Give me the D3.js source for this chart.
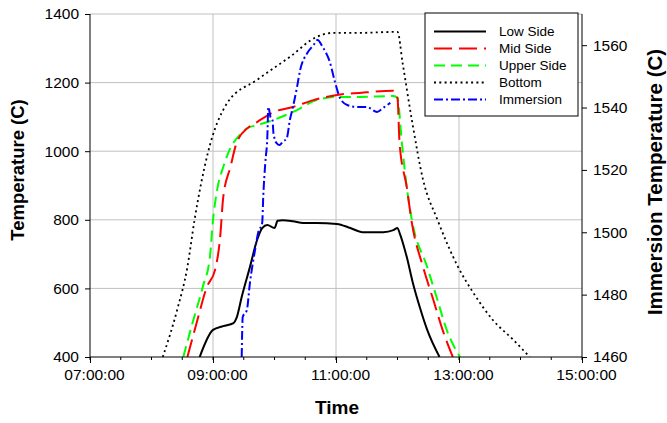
<!DOCTYPE html>
<html lang="en">
<head>
<meta charset="UTF-8">
<title>Temperature vs Time</title>
<script src="https://d3js.org/d3.v7.min.js"></script>
<style>
  body { margin: 0; background: #fff; }
  text { font-family: Arial, "Liberation Sans", sans-serif; }
</style>
</head>
<body>
<script>
// data: [time, temperature]
var lowSide = [["08:47",400],["09:00",479],["09:10",490],["09:20",499],["09:23",514],["09:28",575],
  ["09:36",662],["09:43",741],["09:48",776],["09:53",785],["10:00",776],["10:03",797],["10:08",799],
  ["10:18",796],["10:28",791],["10:41",791],["11:01",788],["11:14",776],["11:26",764],["11:46",764],
  ["11:56",770],["12:00",776],["12:02",762],["12:09",692],["12:15",616],["12:22",543],["12:29",479],["12:41",400]];
var midSide = [["08:35",400],["08:44",499],["08:54",604],["09:02",654],["09:07",750],["09:10",866],
  ["09:17",954],["09:23",1024],["09:34",1068],["09:43",1085],["09:59",1114],["10:18",1129],["10:38",1149],
  ["11:01",1164],["11:23",1170],["11:56",1176],["12:00",1155],["12:02",1024],["12:09",896],["12:14",791],
  ["12:25",662],["12:35",566],["12:44",479],["12:54",400]];
var upperSide = [["08:31",400],["08:40",499],["08:50",604],["08:57",692],["09:00",799],["09:04",887],
  ["09:10",954],["09:17",1009],["09:26",1047],["09:34",1068],["09:43",1076],["09:59",1091],["10:22",1120],
  ["10:41",1149],["11:01",1158],["11:23",1158],["11:56",1161],["12:00",1155],["12:04",1033],["12:09",896],
  ["12:14",800],["12:29",662],["12:39",566],["12:48",479],["13:01",400]];
var bottom = [["08:11",400],["08:25",537],["08:35",662],["08:42",800],["08:55",995],["09:14",1141],
  ["09:43",1208],["10:15",1275],["10:41",1333],["10:57",1345],["11:23",1345],["12:00",1348],["12:05",1257],
  ["12:14",1091],["12:25",916],["12:39",800],["12:59",663],["13:14",587],["13:33",508],["13:53",450],["14:09",400]];
// immersion is plotted on the right axis
var immersion = [["09:28",1460],["09:29",1472.8],["09:33",1475],["09:36",1483.7],["09:41",1494.3],
  ["09:44",1499.8],["09:48",1503],["09:49",1511.3],["09:51",1522.2],["09:53",1530.6],["09:54",1540.2],
  ["09:56",1537],["09:58",1536],["09:59",1531.8],["10:02",1528.6],["10:05",1528],["10:08",1529],
  ["10:12",1530.2],["10:15",1536],["10:18",1540.2],["10:22",1546.6],["10:25",1552],["10:32",1557.5],
  ["10:38",1560],["10:42",1561.7],["10:47",1559.4],["10:54",1554.6],["10:59",1548.2],["11:04",1543],
  ["11:11",1540.8],["11:20",1540.2],["11:30",1540.2],["11:40",1538.6],["11:46",1539.9],["11:53",1541.5]];

var seriesNames = ["Low Side", "Mid Side", "Upper Side", "Bottom", "Immersion"];
var leftTicks = [400, 600, 800, 1000, 1200, 1400];
var rightTicks = [1460, 1480, 1500, 1520, 1540, 1560];
var timeTicks = ["07:00", "09:00", "11:00", "13:00", "15:00"];

var width = 667, height = 423;
var m = {left: 90, right: 85, top: 14, bottom: 66};
var parse = d3.timeParse("%H:%M");

var svg = d3.select("body").append("svg")
    .attr("width", width)
    .attr("height", height);

var x = d3.scaleTime()
    .domain([parse("07:00"), parse("15:00")])
    .range([m.left, width - m.right]);
var y = d3.scaleLinear().domain([400, 1400]).range([height - m.bottom, m.top]);
var y2 = d3.scaleLinear().domain([1460, 1570]).range([height - m.bottom, m.top]);

// grid
svg.append("g").selectAll("line").data(leftTicks.slice(1)).join("line")
    .attr("x1", m.left).attr("x2", width - m.right)
    .attr("y1", d => y(d)).attr("y2", d => y(d))
    .attr("stroke", "#c0c0c0").attr("stroke-width", 1);
svg.append("g").selectAll("line").data(timeTicks.slice(1, -1)).join("line")
    .attr("x1", d => x(parse(d))).attr("x2", d => x(parse(d)))
    .attr("y1", m.top).attr("y2", height - m.bottom)
    .attr("stroke", "#c0c0c0").attr("stroke-width", 1);

svg.append("defs").append("clipPath").attr("id", "plot")
  .append("rect")
    .attr("x", m.left).attr("y", m.top)
    .attr("width", width - m.left - m.right)
    .attr("height", height - m.top - m.bottom);

var line = d3.line().curve(d3.curveMonotoneX).x(d => x(parse(d[0]))).y(d => y(d[1]));
var line2 = d3.line().curve(d3.curveMonotoneX).x(d => x(parse(d[0]))).y(d => y2(d[1]));

var plot = svg.append("g").attr("clip-path", "url(#plot)");
var styles = [
  {data: bottom, color: "#000", dash: "2,3.3", w: 1.8, fn: line},
  {data: upperSide, color: "#00ff00", dash: "11,6", w: 2, fn: line},
  {data: midSide, color: "#ff0000", dash: "18,7", w: 2, fn: line},
  {data: lowSide, color: "#000", dash: null, w: 2, fn: line},
  {data: immersion, color: "#0000ff", dash: "9,3,2,3", w: 2, fn: line2}
];
styles.forEach(function(s) {
  plot.append("path")
      .attr("d", s.fn(s.data))
      .attr("fill", "none")
      .attr("stroke", s.color)
      .attr("stroke-width", s.w)
      .attr("stroke-dasharray", s.dash)
      .attr("stroke-linejoin", "round");
});

// axes
var fmt = d3.timeFormat("%H:%M:%S");
var xAxis = svg.append("g")
    .attr("transform", "translate(0," + (height - m.bottom) + ")")
    .call(d3.axisBottom(x).tickValues(timeTicks.map(parse)).tickFormat(fmt).tickSize(6).tickPadding(6));
var minor = d3.timeMinute.every(30).range(parse("07:00"), parse("15:01"));
xAxis.append("g").selectAll("line").data(minor).join("line")
    .attr("x1", d => x(d)).attr("x2", d => x(d))
    .attr("y1", 0).attr("y2", 3).attr("stroke", "#000");

var yAxis = svg.append("g")
    .attr("transform", "translate(" + m.left + ",0)")
    .call(d3.axisLeft(y).tickValues(leftTicks).tickFormat(d3.format("d")).tickSize(5).tickPadding(6));
var y2Axis = svg.append("g")
    .attr("transform", "translate(" + (width - m.right) + ",0)")
    .call(d3.axisRight(y2).tickValues(rightTicks).tickFormat(d3.format("d")).tickSize(5).tickPadding(6));

[xAxis, yAxis, y2Axis].forEach(function(a) {
  a.select(".domain").attr("stroke", "#000");
  a.selectAll("text").attr("font-size", 15.5).attr("fill", "#000")
    .style("font-family", "Arial, 'Liberation Sans', sans-serif");
});
xAxis.selectAll(".tick text").attr("dx", 4);
y2Axis.select(".domain").attr("d", "M0," + y2.range()[0] + "V" + y2.range()[1]);
yAxis.select(".domain").attr("d", "M0," + y.range()[0] + "V" + y.range()[1]);
xAxis.select(".domain").attr("d", "M" + x.range()[0] + ",0H" + x.range()[1]);

// titles
svg.append("text")
    .attr("transform", "translate(24," + 170 + ") rotate(-90)")
    .attr("text-anchor", "middle").attr("font-weight", "bold").attr("font-size", 18.5)
    .text("Temperature (C)");
svg.append("text")
    .attr("transform", "translate(662," + 182 + ") rotate(-90)")
    .attr("text-anchor", "middle").attr("font-weight", "bold").attr("font-size", 20.5)
    .text("Immersion Temperature (C)");
svg.append("text")
    .attr("x", 337).attr("y", 414)
    .attr("text-anchor", "middle").attr("font-weight", "bold").attr("font-size", 19)
    .text("Time");

// legend
var lg = svg.append("g").attr("transform", "translate(425,13)");
lg.append("rect").attr("width", 153).attr("height", 103)
    .attr("fill", "#fff").attr("stroke", "#000").attr("stroke-width", 1);
var legendStyles = [styles[3], styles[2], styles[1], styles[0], styles[4]];
seriesNames.forEach(function(name, i) {
  var s = legendStyles[i];
  var yy = 18.5 + i * 17;
  lg.append("line").attr("x1", 9).attr("x2", 61).attr("y1", yy).attr("y2", yy)
      .attr("stroke", s.color).attr("stroke-width", s.w).attr("stroke-dasharray", s.dash);
  lg.append("text").attr("x", 74).attr("y", yy).attr("dy", "0.35em")
      .attr("font-size", 13.5).text(name);
});
</script>
</body>
</html>
